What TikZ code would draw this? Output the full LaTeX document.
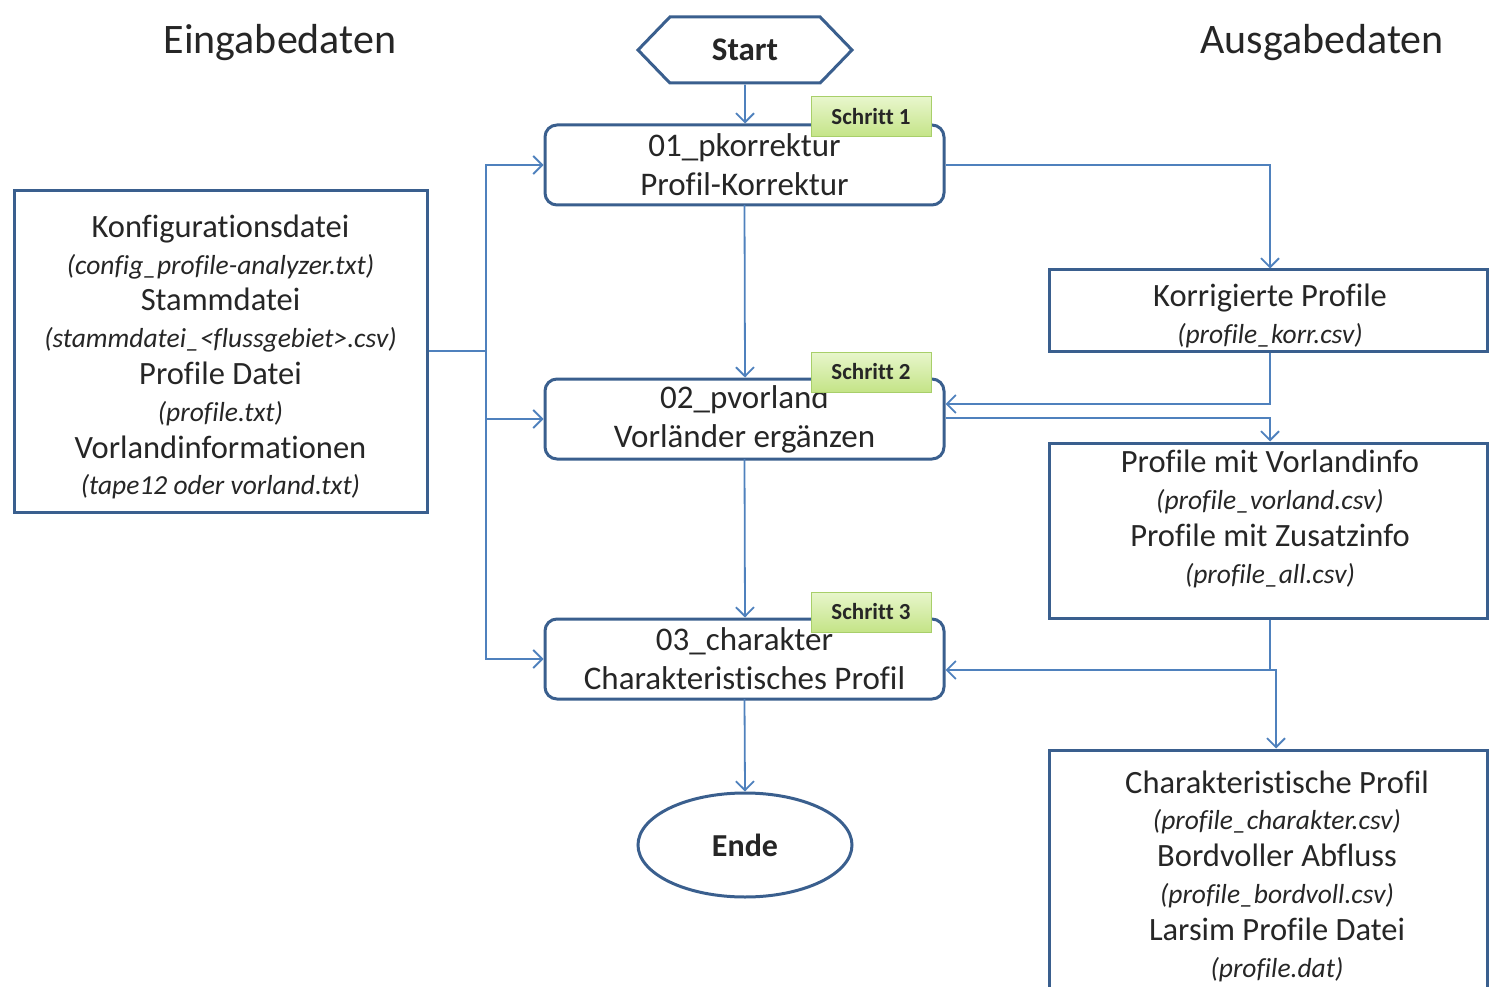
\documentclass[tikz,border=0pt]{standalone}
\usepackage{fontspec}
\setmainfont{Carlito}[Ligatures=NoCommon]
\usetikzlibrary{arrows.meta,shapes.geometric,shapes.symbols,shadows}
\definecolor{bord}{HTML}{3A5F8E}
\definecolor{conn}{HTML}{4F81BD}
\definecolor{txt}{HTML}{262626}
\definecolor{sgtop}{HTML}{E8F6CC}
\definecolor{sgbot}{HTML}{C4E487}
\definecolor{sgbord}{HTML}{A8CF6A}
\newcommand{\bigt}{\fontsize{32.5}{36.8}\selectfont}
\newcommand{\smt}{\fontsize{27.5}{36.8}\selectfont\itshape}
\tikzset{
  x=1pt,y=-1pt,
  every node/.style={text=txt},
  procbox/.style={draw=bord,line width=3pt,rounded corners=12pt,minimum width=399pt,minimum height=80pt,align=center,inner sep=0pt,font=\fontsize{33}{39}\selectfont},
  databox/.style={draw=bord,line width=3pt,align=center,inner sep=0pt,fill=white},
  datatext/.style={align=center,inner sep=0pt,font=\bigt},
  stepbox/.style={draw=sgbord,line width=1pt,top color=sgtop,bottom color=sgbot,minimum width=120pt,minimum height=40pt,inner sep=0pt,font=\fontsize{23}{26}\selectfont\bfseries},
  conline/.style={draw=conn,line width=1.8pt},
  conarrow/.style={conline,-{Straight Barb[length=9pt,width=18pt,line width=1.8pt]}},
  header/.style={font=\fontsize{42}{48}\selectfont}
}
\begin{document}
\begin{tikzpicture}
\useasboundingbox (0,0) rectangle (1489,987);
\clip (0,0) rectangle (1489,987);
% headers
\node[header] (hin) at (280,43) {Eingabedaten};
\node[header] (hout) at (1322,43) {Ausgabedaten};
% start / end
\node[draw=bord,line width=3pt,signal,signal to=east and west,signal pointer angle=92,minimum width=214pt,minimum height=66pt,inner sep=0pt,font=\fontsize{33}{38}\selectfont\bfseries] (start) at (745,50) {Start};
\node[draw=bord,line width=3pt,ellipse,minimum width=214pt,minimum height=104pt,inner sep=0pt,font=\fontsize{32}{38}\selectfont\bfseries] (ende) at (745,845) {Ende};
% process boxes
\node[procbox] (b1) at (744.5,165) {01\_pkorrektur\\Profil-Korrektur};
\node[procbox] (b2) at (744.5,419) {02\_pvorland\\Vorländer ergänzen};
\node[procbox] (b3) at (744.5,659) {03\_charakter\\Charakteristisches Profil};
% step labels
\node[stepbox] (s1) at (871,117) {Schritt 1};
\node[stepbox] (s2) at (871,372) {Schritt 2};
\node[stepbox] (s3) at (871,612) {Schritt 3};
% input box
\node[databox,minimum width=413pt,minimum height=321pt] (in) at (220.5,351.5) {};
\node[datatext] (intext) at (220.5,357) {%
Konfigurationsdatei\\
{\smt (config\_profile-analyzer.txt)}\\
Stammdatei\\
{\smt (stammdatei\_<flussgebiet>.csv)}\\
Profile Datei\\
{\smt (profile.txt)}\\
Vorlandinformationen\\
{\smt (tape12 oder vorland.txt)}};
% output boxes
\node[databox,minimum width=438pt,minimum height=81pt] (kor) at (1268,310.5) {};
\node[datatext] (kortext) at (1270,316) {%
Korrigierte Profile\\
{\smt (profile\_korr.csv)}};
\node[databox,minimum width=438pt,minimum height=175pt] (vor) at (1268,530.5) {};
\node[datatext] (vortext) at (1270,519) {%
Profile mit Vorlandinfo\\
{\smt (profile\_vorland.csv)}\\
Profile mit Zusatzinfo\\
{\smt (profile\_all.csv)}};
\node[databox,minimum width=438pt,minimum height=300pt] (bot) at (1268,900) {};
\node[datatext] (bottext) at (1277,876) {%
Charakteristische Profil\\
{\smt (profile\_charakter.csv)}\\
Bordvoller Abfluss\\
{\smt (profile\_bordvoll.csv)}\\
Larsim Profile Datei\\
{\smt (profile.dat)}};
% main flow
\draw[conarrow] (start) -- (start |- b1.north);
\draw[conarrow] (b1) ++(0,40) -- (b2.north -| 745,0);
\draw[conarrow] (b2) ++(0,40) -- (b3.north -| 745,0);
\draw[conarrow] (b3) ++(0,40) -- (ende.north);
% inputs
\coordinate (li) at (486,351);
\draw[conline] (in.east |- li) -- (li);
\draw[conarrow] (li) |- (b1.west);
\draw[conarrow] (li) |- (b2.west);
\draw[conarrow] (li) |- (b3.west);
% outputs
\coordinate (k1) at (1270,165);
\draw[conarrow] (b1.east) -- (k1) -- (k1 |- kor.north);
\coordinate (k2) at (1270,404);
\draw[conarrow] (k2 |- kor.south) -- (k2) -- (b2.east |- k2);
\coordinate (k3) at (1270,418);
\draw[conarrow] (b2.east |- k3) -- (k3) -- (k3 |- vor.north);
\coordinate (j3) at (1270,670);
\draw[conarrow] (j3 |- vor.south) -- (j3) -- (b3.east |- j3);
\coordinate (jj) at (1276,670);
\draw[conarrow] (j3) -- (jj) -- (jj |- bot.north);
\end{tikzpicture}
\end{document}
